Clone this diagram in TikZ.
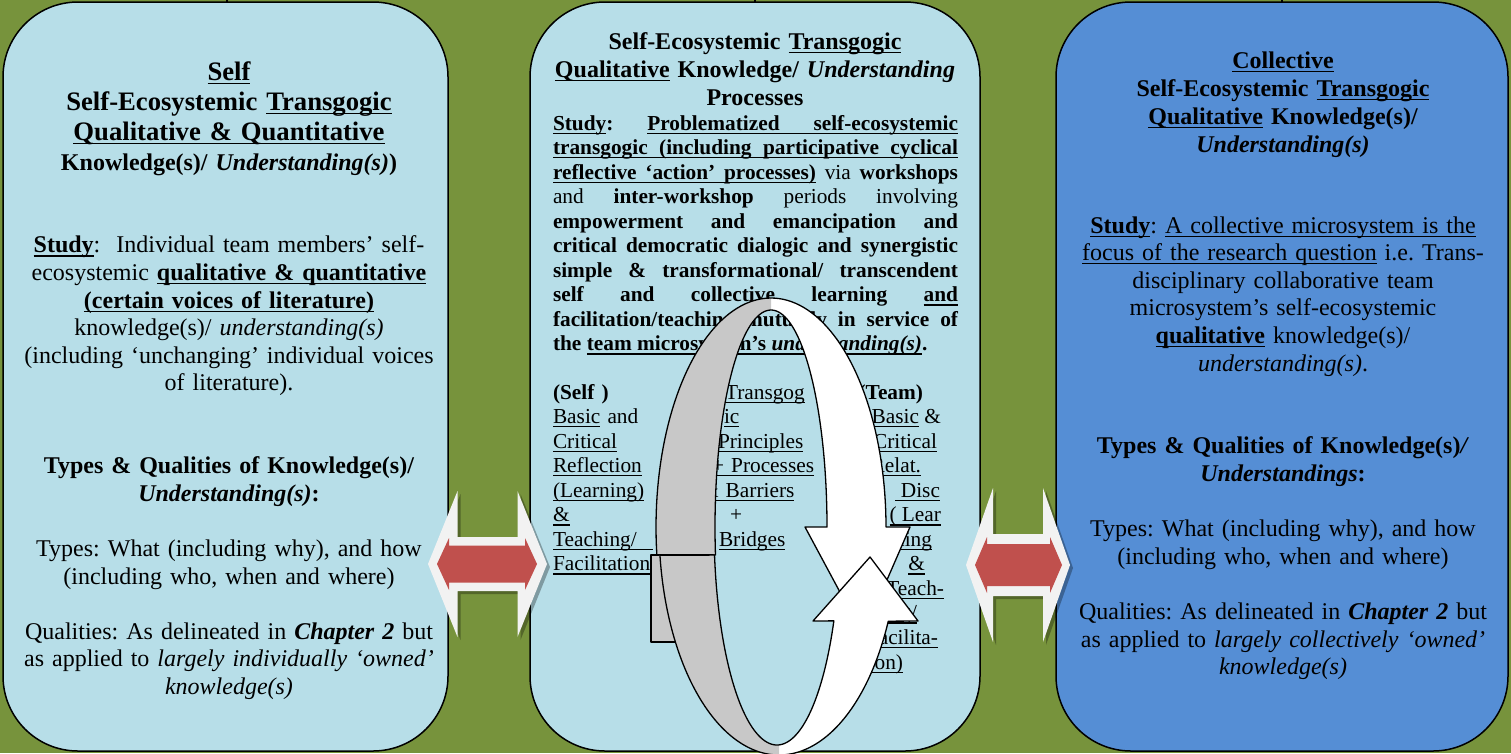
\documentclass[tikz,border=0pt]{standalone}
\usepackage{fontspec}
\setmainfont{Liberation Serif}
\usetikzlibrary{calc}
\frenchspacing
\definecolor{bggreen}{HTML}{77933C}
\definecolor{paleblue}{HTML}{B7DEE8}
\definecolor{midblue}{HTML}{558ED5}
\definecolor{arrowred}{HTML}{C0504D}
\definecolor{glowwhite}{HTML}{F2F2F2}
\definecolor{bandgray}{HTML}{C8C8C8}
\newsavebox{\ulbox}
\newcommand{\uln}[1]{\leavevmode\sbox{\ulbox}{#1}\rlap{\rule[-3.8pt]{\wd\ulbox}{1.3pt}}\usebox{\ulbox}}
\newcommand{\us}{\leaders\hrule height -2.5pt depth 3.8pt\hskip\fontdimen2\font plus\fontdimen3\font minus\fontdimen4\font\relax}
\makeatletter
\def\ulwords#1{\leavevmode\ulw@#1 \@nil}
\def\ulw@#1 #2\@nil{\uln{#1}\ifx\relax#2\relax\else\us\ulw@#2\@nil\fi}
\makeatother
\newcommand{\titlefontL}{\bfseries\fontsize{26.67}{30}\selectfont}
\newcommand{\titlefont}{\bfseries\fontsize{24}{28}\selectfont}
\newcommand{\bodyfont}{\fontsize{24}{27.6}\selectfont}
\newcommand{\midfont}{\fontsize{21.33}{24.55}\selectfont}
\newcommand{\bandApath}{plot[domain=173:360,samples=90,variable=\t] ({771+115*cos(\t)},{527+229*sin(\t)}) -- (910,527) -- (863,635) -- (805,527) -- plot[domain=360:172.6,samples=90,variable=\t] ({771+56*cos(\t)},{527+217*sin(\t)}) -- cycle}
\newcommand{\bandBpath}{plot[domain=172.9:24.4,samples=110,variable=\t] ({779+120*cos(\t)},{527+228*sin(\t)}) -- (918,621) -- (870,557) -- (813,621) -- plot[domain=25.5:172.6,samples=110,variable=\t] ({777+63*cos(\t)},{527+218*sin(\t)}) -- cycle}
% #1 cx, #2 cy, #3 half length, #4 head length, #5 head half height, #6 shaft half height
\newcommand{\dblarrow}[6]{({#1-#3},{#2}) -- ({#1-#3+#4},{#2-#5}) -- ({#1-#3+#4},{#2-#6}) -- ({#1+#3-#4},{#2-#6}) -- ({#1+#3-#4},{#2-#5}) -- ({#1+#3},{#2}) -- ({#1+#3-#4},{#2+#5}) -- ({#1+#3-#4},{#2+#6}) -- ({#1-#3+#4},{#2+#6}) -- ({#1-#3+#4},{#2+#5}) -- cycle}
\begin{document}
\begin{tikzpicture}[x=1pt,y=-1pt,
  panel/.style={draw=black, line width=1.5pt, rounded corners=75pt, inner sep=0pt},
  txt/.style={inner sep=0pt, outer sep=0pt},
  band/.style={draw=black, line width=1.3pt, line join=round},
]
\fill[bggreen] (0,0) rectangle (1511,753);
\useasboundingbox (0,0) rectangle (1511,753);

% panels
\node[panel, fill=paleblue, minimum width=445pt, minimum height=749pt] (leftpanel) at (225.5,376.5) {};
\node[panel, fill=paleblue, minimum width=450pt, minimum height=749pt] (midpanel) at (755,376.5) {};
\node[panel, fill=midblue, minimum width=452pt, minimum height=749pt] (rightpanel) at (1282,376.5) {};
\draw[line width=2.5pt] (227,2) -- (227,-2);
\draw[line width=2.5pt] (755,2) -- (755,-2);
\draw[line width=2.5pt] (1282,2) -- (1282,-2);

% left panel text
\node[txt, text width=436pt, align=center, font=\titlefontL, anchor=base] (ltitle) at (229,80)
 {\uln{Self}\\ Self-Ecosystemic \uln{Transgogic}\\ \uln{Qualitative \& Quantitative}};
\node[txt, text width=436pt, align=center, font=\bodyfont, anchor=base] (lbody) at (229,170)
 {\textbf{Knowledge(s)/ \textit{Understanding(s)})}\\[55.2pt]
 \textbf{\uln{Study}}:\ \ Individual team members’ self-\\
 ecosystemic \textbf{\uln{qualitative \& quantitative}}\\
 \textbf{\uln{(certain voices of literature)}}\\
 knowledge(s)/ \textit{understanding(s)}\\
 (including ‘unchanging’ individual voices\\
 of literature).\\[55.2pt]
 \textbf{Types \& Qualities of Knowledge(s)/}\\
 \textbf{\textit{Understanding(s)}:}\\[27.6pt]
 Types: What (including why), and how\\
 (including who, when and where)\\[27.6pt]
 Qualities: As delineated in \textbf{\textit{Chapter 2}} but\\
 as applied to \textit{largely individually ‘owned’}\\
 \textit{knowledge(s)}};

% right panel text
\node[txt, text width=440pt, align=center, font=\titlefont, anchor=base] (rtitle) at (1283,68)
 {\uln{Collective}\\ Self-Ecosystemic \uln{Transgogic}\\ \uln{Qualitative} Knowledge(s)/\\ \textit{Understanding(s)}};
\node[txt, text width=440pt, align=center, font=\bodyfont, anchor=base] (rbody) at (1283,233)
 {\textbf{\uln{Study}}: \uln{A collective microsystem is the}\\
 \uln{focus of the research question} i.e. Trans-\\
 disciplinary collaborative team\\
 microsystem’s self-ecosystemic\\
 \textbf{\uln{qualitative}} knowledge(s)/\\
 \textit{understanding(s)}.\\[55.2pt]
 \textbf{Types \& Qualities of Knowledge(s)\textit{/}}\\
 \textbf{\textit{Understandings}:}\\[27.6pt]
 Types: What (including why), and how\\
 (including who, when and where)\\[27.6pt]
 Qualities: As delineated in \textbf{\textit{Chapter 2}} but\\
 as applied to \textit{largely collectively ‘owned’}\\
 \textit{knowledge(s)}};

% middle panel text
\node[txt, text width=430pt, align=center, font=\titlefont, anchor=base] (mtitle) at (755,49)
 {Self-Ecosystemic \uln{Transgogic}\\ \uln{Qualitative} Knowledge/ \textit{Understanding}\\ Processes};
\node[txt, text width=405pt, align=justify, font=\bfseries\midfont, anchor=base west] (mbody) at (553,130)
 {\tolerance=10000\hyphenpenalty=10000 \uln{Study}: \ulwords{Problematized self-ecosystemic}\linebreak
 \ulwords{transgogic (including participative cyclical}\linebreak
 \ulwords{reflective ‘action’ processes)} {\mdseries via} workshops\linebreak
 {\mdseries and} inter-workshop {\mdseries periods involving}\linebreak
 empowerment and emancipation and\linebreak
 critical democratic dialogic and synergistic\linebreak
 simple \& transformational/ transcendent\linebreak
 self and collective learning \uln{and}\linebreak
 facilitation/teaching mutually in service of\linebreak
 the \ulwords{team microsystem’s \textit{understanding(s)}}.};
\node[txt, text width=130pt, align=left, font=\midfont, anchor=base west] (colone) at (553,399)
 {\textbf{(Self )}\\ \uln{Basic} and\\ \uln{Critical}\\ \uln{Reflection}\\ \uln{(Learning)}\\ \uln{\&}\\ \uln{\makebox[100pt][l]{Teaching/}}\\ \uln{Facilitation)}};
\node[txt, text width=130pt, align=left, font=\midfont, anchor=base west] (coltwo) at (702,399)
 {\hspace*{23pt}\uln{Transgog}\\ \hspace*{22pt}\uln{ic}\\ \hspace*{16pt}\uln{Principles}\\ \hspace*{10pt}\uln{+ Processes}\\ \uln{\& Barriers}\\ \hspace*{28pt}+\\ \hspace*{17pt}\uln{Bridges}};
\foreach \rx/\tx [count=\i] in {923/{\textbf{(Team)}}, 941/{\uln{Basic} \&}, 937/{\uln{Critical}}, 921/{\uln{Relat.}}, 940/{\uln{\makebox[45pt][r]{Disc}}}, 941/{\uln{( Lear}}, 932/{\uln{ning}}, 925/{\uln{\&}}, 944/{\uln{Teach-}}, 917/{\uln{ing/}}, 938/{\uln{Facilita-}}, 903/{\uln{tion)}}}
 {\node[txt, font=\midfont, anchor=base east] (colthree-\i) at (\rx,{399+(\i-1)*24.55}) {\tx};}

% cycle arrows
\fill[white] \bandApath;
\begin{scope}
 \clip (0,0) rectangle (771,753);
 \fill[bandgray] \bandApath;
\end{scope}
\draw[band] \bandApath;
\filldraw[band, fill=bandgray] (651,555) rectangle (713,642);
\fill[white] \bandBpath;
\begin{scope}
 \clip (0,0) rectangle (779,753);
 \fill[bandgray] \bandBpath;
\end{scope}
\draw[band] \bandBpath;

% double arrows between panels
\coordinate (arrowL) at (487.5,564);
\coordinate (arrowR) at (1018,565);
\begin{scope}[shift={(3,3)}]
 \fill[black, opacity=0.3] \dblarrow{487.5}{564}{59.5}{29.5}{73}{27};
 \fill[black, opacity=0.3] \dblarrow{1018}{565}{52}{27}{77}{31};
\end{scope}
\fill[glowwhite] \dblarrow{487.5}{564}{59.5}{29.5}{73}{27};
\fill[arrowred] \dblarrow{487}{564}{50}{12}{26}{18.5};
\fill[glowwhite] \dblarrow{1018}{565}{52}{27}{77}{31};
\fill[arrowred] \dblarrow{1018.5}{565}{43.5}{12}{28}{21};
\end{tikzpicture}
\end{document}
